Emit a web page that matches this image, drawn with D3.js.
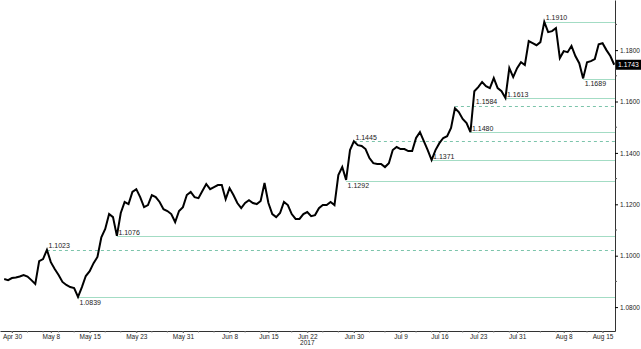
<!DOCTYPE html>
<html>
<head>
<meta charset="utf-8">
<script src="https://cdn.jsdelivr.net/npm/d3@7"></script>
<style>
  body { margin: 0; background: #fff; }
  text { font-family: "Liberation Sans", Arial, sans-serif; fill: #1a1a1a; }
</style>
</head>
<body>
<svg id="chart"></svg>
<script>
// EUR/USD closes, one every half trading day from Fri Apr 28 2017
var closes = [
  1.0909, 1.0905, 1.0913, 1.0915, 1.0919, 1.0925, 1.0919, 1.0905, 1.0890, 1.0979,
  1.0987, 1.1023, 1.0975, 1.0948, 1.0925, 1.0898, 1.0886, 1.0878, 1.0874, 1.0840,
  1.0878, 1.0921, 1.0940, 1.0971, 1.0995, 1.1072, 1.1104, 1.1162, 1.1150, 1.1077,
  1.1166, 1.1209, 1.1201, 1.1248, 1.1259, 1.1228, 1.1189, 1.1197, 1.1236, 1.1228,
  1.1209, 1.1181, 1.1174, 1.1162, 1.1131, 1.1174, 1.1189, 1.1236, 1.1248, 1.1228,
  1.1224, 1.1252, 1.1279, 1.1259, 1.1267, 1.1275, 1.1275, 1.1220, 1.1263, 1.1236,
  1.1205, 1.1185, 1.1205, 1.1216, 1.1205, 1.1201, 1.1213, 1.1283, 1.1205, 1.1162,
  1.1150, 1.1166, 1.1209, 1.1197, 1.1162, 1.1143, 1.1143, 1.1162, 1.1170, 1.1154,
  1.1158, 1.1185, 1.1197, 1.1197, 1.1209, 1.1197, 1.1314, 1.1345, 1.1295, 1.1411,
  1.1445, 1.1430, 1.1427, 1.1415, 1.1380, 1.1360, 1.1357, 1.1357, 1.1345, 1.1360,
  1.1411, 1.1423, 1.1415, 1.1415, 1.1407, 1.1407, 1.1458, 1.1481, 1.1446, 1.1411,
  1.1372, 1.1411, 1.1438, 1.1458, 1.1465, 1.1497, 1.1574, 1.1559, 1.1532, 1.1516,
  1.1481, 1.1640, 1.1656, 1.1676, 1.1660, 1.1652, 1.1691, 1.1652, 1.1640, 1.1614,
  1.1730, 1.1695, 1.1730, 1.1753, 1.1742, 1.1835, 1.1827, 1.1819, 1.1831, 1.1910,
  1.1870, 1.1874, 1.1886, 1.1769, 1.1796, 1.1792, 1.1816, 1.1777, 1.1749, 1.1690,
  1.1753, 1.1757, 1.1765, 1.1823, 1.1827, 1.1800, 1.1777, 1.1743
];
var firstDate = "2017-04-28";
var stepDays = 0.5;

var tickDates = ["2017-04-30", "2017-05-08", "2017-05-15", "2017-05-23", "2017-05-31",
  "2017-06-08", "2017-06-15", "2017-06-22", "2017-06-30", "2017-07-09", "2017-07-16",
  "2017-07-23", "2017-07-31", "2017-08-08", "2017-08-15"];
var tickLabels = ["Apr 30", "May 8", "May 15", "May 23", "May 31", "Jun 8", "Jun 15",
  "Jun 22", "Jun 30", "Jul 9", "Jul 16", "Jul 23", "Jul 31", "Aug 8", "Aug 15"];
var yearDate = "2017-06-22", yearLabel = "2017";

var yTicks = [1.08, 1.10, 1.12, 1.14, 1.16, 1.18];
var yMinorTicks = [1.09, 1.11, 1.13, 1.15, 1.17, 1.19];

// swing levels: value and the sample where they start
var supportLevels = [
  { value: 1.1910, at: 139 }, { value: 1.1689, at: 149 }, { value: 1.1613, at: 129 },
  { value: 1.1480, at: 120 }, { value: 1.1371, at: 110 }, { value: 1.1292, at: 88 },
  { value: 1.1076, at: 29 }, { value: 1.0839, at: 19 }
];
var dashedLevels = [
  { value: 1.1584, at: 116, labelAt: 121 }, { value: 1.1445, at: 90 }, { value: 1.1023, at: 11 }
];
var labelBelow = [1.1689, 1.1292, 1.0839];

var width = 641, height = 349;
var plotRight = 615, plotBottom = 331;

function tradingIndex(s) {
  var d = Date.parse(s + "T00:00:00Z"), base = Date.UTC(2017, 4, 1);
  var days = Math.round((d - base) / 864e5);
  var weeks = Math.floor(days / 7), r = days - weeks * 7;
  return weeks * 5 + Math.min(r, 5);
}
var start = tradingIndex(firstDate);
function sampleIndex(i) { return start + i * stepDays; }

var x = d3.scaleLinear()
  .domain([-1.54, 77.6])
  .range([0, plotRight]);
var y = d3.scaleLinear()
  .domain([1.0707, 1.1995])
  .range([plotBottom, 0]);

var svg = d3.select("#chart")
  .attr("width", width)
  .attr("height", height);

// level lines
var solidColor = "#a3dcc4", dashColor = "#7cc4ab";
function drawLevels(list, dashed) {
  var g = svg.append("g");
  g.selectAll("line")
      .data(list)
    .enter().append("line")
      .attr("x1", function(d) { return x(sampleIndex(d.at)); })
      .attr("x2", plotRight)
      .attr("y1", function(d) { return Math.round(y(d.value)) + 0.5; })
      .attr("y2", function(d) { return Math.round(y(d.value)) + 0.5; })
      .attr("stroke", dashed ? dashColor : solidColor)
      .attr("stroke-width", 1)
      .attr("stroke-dasharray", dashed ? "3,3" : null);
  g.selectAll("text")
      .data(list)
    .enter().append("text")
      .attr("x", function(d) { return x(sampleIndex(d.labelAt != null ? d.labelAt : d.at)) + 1.5; })
      .attr("y", function(d) {
        return labelBelow.indexOf(d.value) >= 0 ? y(d.value) + 7.5 : y(d.value) - 1.5;
      })
      .attr("font-size", "7px")
      .text(function(d) { return d.value.toFixed(4); });
}
drawLevels(supportLevels, false);
drawLevels(dashedLevels, true);

// price line
var line = d3.line()
  .x(function(d, i) { return x(sampleIndex(i)); })
  .y(function(d) { return y(d); });
svg.append("path")
  .datum(closes)
  .attr("fill", "none")
  .attr("stroke", "#000")
  .attr("stroke-width", 2)
  .attr("stroke-linejoin", "miter")
  .attr("d", line);

// bottom axis
var xAxis = d3.axisBottom(x)
  .tickValues(tickDates.map(tradingIndex))
  .tickFormat(function(d, i) { return tickLabels[i]; })
  .tickSize(2)
  .tickPadding(1)
  .tickSizeOuter(0);
var gx = svg.append("g")
  .attr("transform", "translate(0," + plotBottom + ")")
  .call(xAxis);
gx.select(".domain").attr("stroke", "#333");
gx.selectAll(".tick line").attr("stroke", "#555");
gx.selectAll(".tick text").attr("font-size", "6.5px").attr("fill", "#1a1a1a")
  .style("font-family", "'Liberation Sans', Arial, sans-serif");
var minorX = d3.range(0, 78, 2);
gx.selectAll(".minor")
    .data(minorX)
  .enter().append("line")
    .attr("class", "minor")
    .attr("x1", function(d) { return x(d); })
    .attr("x2", function(d) { return x(d); })
    .attr("y1", 0)
    .attr("y2", 1.5)
    .attr("stroke", "#777");
svg.append("text")
  .attr("x", x(tradingIndex(yearDate)))
  .attr("y", plotBottom + 14)
  .attr("text-anchor", "middle")
  .attr("font-size", "6.5px")
  .text(yearLabel);

// right axis
var yAxis = d3.axisRight(y)
  .tickValues(yTicks)
  .tickFormat(d3.format(".4f"))
  .tickSize(3)
  .tickPadding(2)
  .tickSizeOuter(0);
var gy = svg.append("g")
  .attr("transform", "translate(" + plotRight + ",0)")
  .call(yAxis);
gy.select(".domain").attr("stroke", "#333");
gy.selectAll(".tick text").attr("font-size", "6.5px").attr("fill", "#1a1a1a")
  .style("font-family", "'Liberation Sans', Arial, sans-serif");
gy.selectAll(".minor")
    .data(yMinorTicks)
  .enter().append("line")
    .attr("x1", 0)
    .attr("x2", 2)
    .attr("y1", function(d) { return y(d); })
    .attr("y2", function(d) { return y(d); })
    .attr("stroke", "#555");

// last value tag
var last = closes[closes.length - 1];
svg.append("rect")
  .attr("x", plotRight + 1)
  .attr("y", y(last) - 5)
  .attr("width", width - plotRight - 1)
  .attr("height", 10)
  .attr("fill", "#000");
svg.append("text")
  .attr("x", plotRight + 3)
  .attr("y", y(last) + 2.5)
  .attr("font-size", "6.8px")
  .style("fill", "#fff")
  .text(last.toFixed(4));
</script>
</body>
</html>
